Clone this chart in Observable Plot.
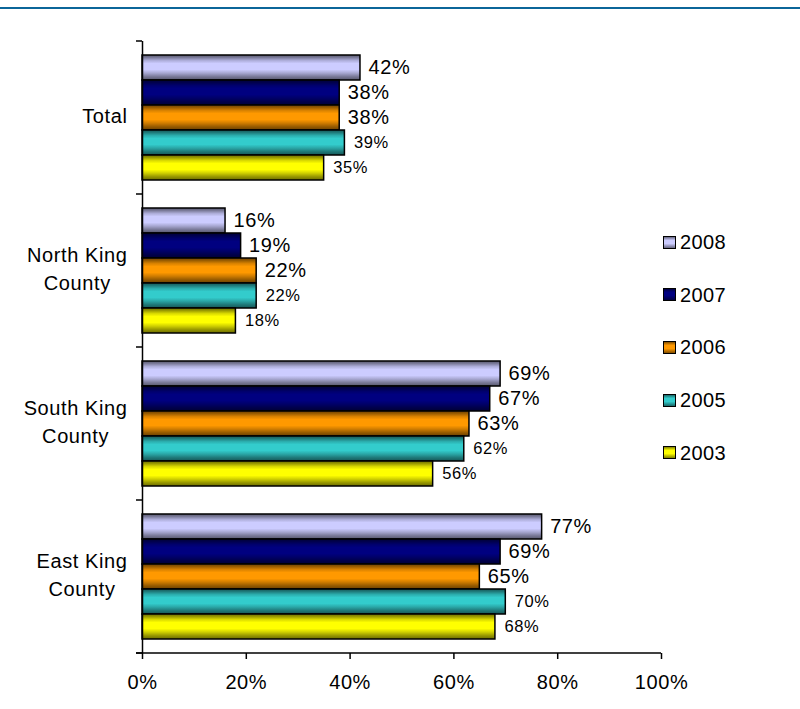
<!DOCTYPE html>
<html>
<head>
<meta charset="utf-8">
<script src="https://cdn.jsdelivr.net/npm/d3@7"></script>
<script src="https://cdn.jsdelivr.net/npm/@observablehq/plot@0.6"></script>
<style>
  body { margin: 0; background: #fff; font-family: "Liberation Sans", Arial, sans-serif; }
  #wrap { position: relative; width: 800px; height: 709px; overflow: hidden; }
  #topline { position: absolute; left: 0; top: 7px; width: 800px; height: 2px; background: #0b6699; }
  #legend { position: absolute; left: 663px; top: 233px; display: flex; flex-direction: column; gap: 34.7px; }
  .item { display: flex; align-items: center; height: 18px; font-size: 20px; letter-spacing: 0.4px; line-height: 18px; color: #000; white-space: nowrap; }
  .sw { width: 11px; height: 11px; border: 1.5px solid #000; margin-right: 4px; }
</style>
</head>
<body>
<div id="wrap">
  <div id="topline"></div>
  <div id="chart"></div>
  <div id="legend"></div>
</div>
<script>
// ---- data ----
const categories = ["Total", "North King County", "South King County", "East King County"];
const categoryLabels = ["Total", "North King\nCounty", "South King\nCounty", "East King\nCounty"];
const years = ["2008", "2007", "2006", "2005", "2003"];
const colors = ["#CCCCFF", "#000080", "#FF9900", "#33CCCC", "#FFFF00"];
const v2008 = [42, 16, 69, 77];
const v2007 = [38, 19, 67, 69];
const v2006 = [38, 22, 63, 65];
const v2005 = [39, 22, 62, 70];
const v2003 = [35, 18, 56, 68];
const xTicks = [0, 20, 40, 60, 80, 100];
const smallLabelYears = ["2005", "2003"];

const series = [v2008, v2007, v2006, v2005, v2003];
const data = categories.flatMap((c, i) =>
  years.map((y, j) => ({ cat: c, year: y, value: series[j][i] }))
);

function shade(col, k) {
  const c = d3.rgb(col);
  return d3.rgb(c.r * k, c.g * k, c.b * k).formatHex();
}

const font = "'Liberation Sans', Arial, sans-serif";

const chart = Plot.plot({
  width: 800,
  height: 709,
  marginTop: 40,
  marginBottom: 55,
  marginLeft: 142,
  marginRight: 139,
  style: { fontFamily: font, fontSize: "20px", letterSpacing: "0.6px", color: "#000", background: "transparent" },
  x: { domain: [0, 100], label: null },
  y: { domain: years, axis: null, paddingInner: 0, paddingOuter: 0.51 },
  fy: { domain: categories, padding: 0, label: null, axis: null },
  color: { type: "ordinal", domain: years, range: years.map(y => `url(#g${y})`) },
  marks: [
    Plot.barX(data, { fy: "cat", y: "year", x: "value", fill: "year", stroke: "#000", strokeWidth: 1.5 }),
    Plot.text(data.filter(d => !smallLabelYears.includes(d.year)), {
      fy: "cat", y: "year", x: "value", text: d => d.value + "%",
      dx: 8, textAnchor: "start", fontSize: 20, fill: "#000"
    }),
    Plot.text(data.filter(d => smallLabelYears.includes(d.year)), {
      fy: "cat", y: "year", x: "value", text: d => d.value + "%",
      dx: 9, textAnchor: "start", fontSize: 16.5, fill: "#000"
    }),
    Plot.ruleX([0], { stroke: "#000", strokeWidth: 1.5 }),
    Plot.axisX({ ticks: xTicks, tickSize: 6, tickPadding: 15, tickFormat: d => d + "%", fontSize: 20, label: null, stroke: "#000", strokeWidth: 1.5 }),
    Plot.axisFy({ anchor: "left", tickSize: 0, tickPadding: 15, fontSize: 20, lineHeight: 1.4, dy: -4, label: null,
      tickFormat: c => categoryLabels[categories.indexOf(c)] })
  ]
});

document.getElementById("chart").appendChild(chart);

const svg = d3.select(chart);
// gradient defs for 3D-looking bars
const defs = svg.insert("defs", ":first-child");
years.forEach((y, i) => {
  const base = colors[i];
  const g = defs.append("linearGradient").attr("id", "g" + y)
    .attr("x1", 0).attr("y1", 0).attr("x2", 0).attr("y2", 1);
  [[0, shade(base, 0.42)], [0.1, shade(base, 0.6)], [0.22, shade(base, 0.85)], [0.34, base], [0.58, base],
   [0.72, shade(base, 0.82)], [0.86, shade(base, 0.6)], [1, shade(base, 0.42)]]
    .forEach(([o, c]) => g.append("stop").attr("offset", o).attr("stop-color", c));
});

// axis lines and category boundary ticks, positioned with the chart's own scales
const xs = chart.scale("x");
const fys = chart.scale("fy");
const x0 = xs.apply(0), x1 = xs.apply(100);
const bounds = categories.map(c => fys.apply(c));
bounds.push(fys.apply(categories[categories.length - 1]) + fys.bandwidth);
const ax = svg.append("g").attr("stroke", "#000").attr("stroke-width", 1.5);
ax.selectAll("line.b").data(bounds).join("line")
  .attr("x1", x0 - 6).attr("x2", x0).attr("y1", d => d).attr("y2", d => d);
ax.append("line").attr("x1", x0 - 6).attr("x2", x1)
  .attr("y1", bounds[bounds.length - 1]).attr("y2", bounds[bounds.length - 1]);

// center multi-line category labels (right edge kept at the tick padding)
svg.selectAll('g[aria-label="fy-axis tick label"] text').each(function () {
  const w = this.getBBox().width;
  this.setAttribute("text-anchor", "middle");
  const t = this.getAttribute("transform") || "";
  this.setAttribute("transform", t + ` translate(${-w / 2},0)`);
});

// legend
const legend = d3.select("#legend");
years.forEach((y, i) => {
  const base = colors[i];
  const it = legend.append("div").attr("class", "item");
  it.append("div").attr("class", "sw")
    .style("background", `linear-gradient(to bottom, ${shade(base, 0.5)} 0%, ${base} 30%, ${base} 60%, ${shade(base, 0.5)} 100%)`);
  it.append("span").text(y);
});
</script>
</body>
</html>
